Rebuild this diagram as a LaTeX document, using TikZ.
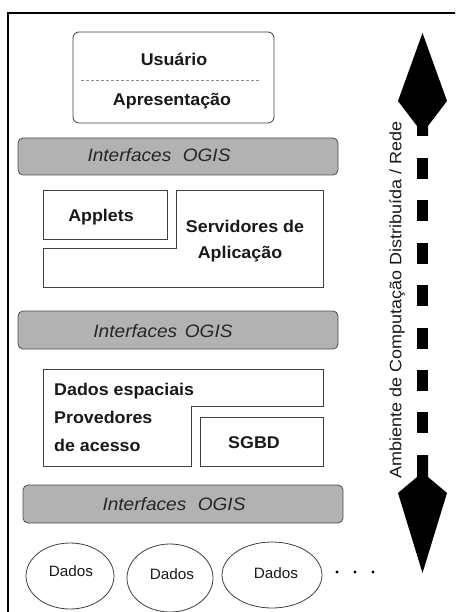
\documentclass[tikz,border=0pt]{standalone}
\usepackage{fontspec}
\setmainfont{Liberation Sans}
\begin{document}
\begin{tikzpicture}[x=1pt,y=-1pt,
  box/.style={draw=black!75, line width=0.8pt, fill=white},
  band/.style={draw=black!70, line width=0.8pt, fill=black!30, rounded corners=5pt},
  lbl/.style={font=\fontsize{17}{19}\selectfont\bfseries, xscale=1.05, anchor=base, inner sep=0pt, text=black!90},
  ogis/.style={font=\fontsize{18}{20}\selectfont\itshape, xscale=1.06, anchor=base, inner sep=0pt, text=black!85},
  dados/.style={font=\fontsize{15}{17}\selectfont, xscale=1.02, anchor=base, inner sep=0pt, text=black!90},
  arr/.style={fill=black, draw=none}]
\useasboundingbox (0,0) rectangle (455,612);
\clip (0,0) rectangle (455,612);
% frame
\draw[line width=2.8pt] (8,700) -- (8,13) -- (500,13);
% Usuario box
\draw[box, rounded corners=6pt] (73,32) rectangle (274,123);
\coordinate (dl) at (81,80);
\coordinate (dr) at (260,80);
\draw[black!45, line width=0.8pt, dash pattern=on 3pt off 2pt] (dl) -- (dr);
\node[lbl] (usu) at (174,66) {Usuário};
\node[lbl] (apr) at (172,106) {Apresentação};
% bands
\draw[band] (18,138) rectangle (338,175);
\node[ogis] (og1) at (159,162) {Interfaces\hspace{0.6em}OGIS};
\draw[band] (18,311) rectangle (338,349);
\node[ogis] (og2) at (163,337) {Interfaces\hspace{0.4em}OGIS};
\draw[band] (23,485) rectangle (343,523);
\node[ogis] (og3) at (174,510) {Interfaces\hspace{0.6em}OGIS};
% application layer
\draw[box] (43,190) rectangle (167,239);
\node[lbl] (app) at (101,222) {Applets};
\draw[box] (176,190) -- (323,190) -- (323,287) -- (43,287) -- (43,248) -- (176,248) -- cycle;
\node[lbl] (srv1) at (245,232) {Servidores de};
\node[lbl] (srv2) at (240,258) {Aplicação};
% data access layer
\draw[box] (43,369) -- (323,369) -- (323,406) -- (191,406) -- (191,466) -- (43,466) -- cycle;
\node[lbl, anchor=base west] (de) at (54,395) {Dados espaciais};
\node[lbl, anchor=base west] (pv) at (54,423) {Provedores};
\node[lbl, anchor=base west] (da) at (54,451) {de acesso};
\draw[box] (200,417) rectangle (323,466);
\node[lbl] (sgbd) at (254,448) {SGBD};
% data stores
\draw[black!75, line width=0.8pt] (70,576) ellipse [x radius=44, y radius=33];
\node[dados] (d1) at (71,576) {Dados};
\draw[black!75, line width=0.8pt] (170,578) ellipse [x radius=43, y radius=34];
\node[dados] (d2) at (172,579) {Dados};
\draw[black!75, line width=0.8pt] (272,575) ellipse [x radius=50, y radius=33];
\node[dados] (d3) at (276,578) {Dados};
\fill (337,572) circle (1.6);
\fill (355,572) circle (1.6);
\fill (373,572) circle (1.6);
% double arrow
\fill[arr] (422.5,33) -- (447,101) -- (428,126) -- (428,136) -- (417,136) -- (417,126) -- (398,101) -- cycle;
\foreach \y in {158,200.4,242.8,285.2,327.6,370,412.4} {
  \fill[arr] (417,\y) rectangle (428,\y+21);
}
\fill[arr] (417,455) -- (428,455) -- (428,477) -- (447,493) -- (422.5,573) -- (398,493) -- (417,477) -- cycle;
\node[font=\fontsize{16.5}{18}\selectfont, rotate=90, xscale=1.09, inner sep=0pt, text=black!90] (amb) at (397,300) {Ambiente de Computação Distribuída / Rede};
\end{tikzpicture}
\end{document}
